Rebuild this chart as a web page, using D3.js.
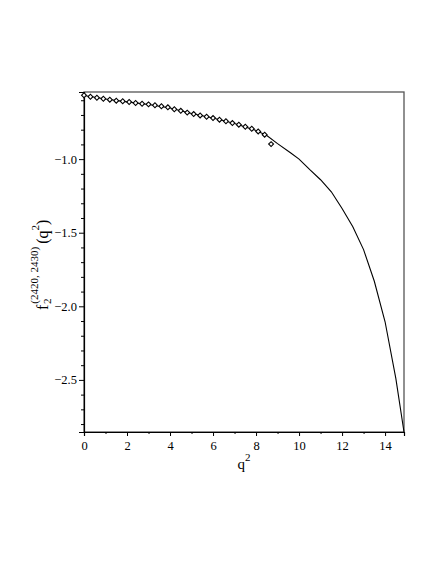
<!DOCTYPE html>
<html>
<head>
<meta charset="utf-8">
<script src="https://cdn.jsdelivr.net/npm/d3@7"></script>
<style>
  body { margin: 0; background: #fff; }
  svg text { font-family: "Liberation Serif", "DejaVu Serif", serif; fill: #000; }
</style>
</head>
<body>
<div id="chart"></div>
<script>
// measured points (diamonds)
var qData = [0, 0.3, 0.6, 0.9, 1.2, 1.5, 1.8, 2.1, 2.4, 2.7, 3.0, 3.3, 3.6, 3.9, 4.2,
             4.5, 4.8, 5.1, 5.4, 5.7, 6.0, 6.3, 6.6, 6.9, 7.2, 7.5, 7.8, 8.1, 8.4, 8.7];
var fData = [-0.566, -0.576, -0.583, -0.590, -0.596, -0.603, -0.607, -0.612, -0.619, -0.624,
             -0.628, -0.634, -0.641, -0.648, -0.661, -0.672, -0.684, -0.694, -0.703, -0.712,
             -0.721, -0.732, -0.743, -0.755, -0.766, -0.780, -0.794, -0.812, -0.834, -0.898];

// fitted curve
var qFit = [0, 1, 2, 3, 4, 5, 6, 7, 8, 8.5, 9, 9.6, 10, 10.5, 11, 11.5, 12, 12.5, 13, 13.5, 14, 14.5, 14.88];
var fFit = [-0.568, -0.592, -0.611, -0.629, -0.653, -0.690, -0.721, -0.758, -0.805, -0.840, -0.895,
            -0.957, -1.000, -1.072, -1.140, -1.222, -1.335, -1.460, -1.615, -1.830, -2.105, -2.490, -2.854];

var xTicks = [0, 2, 4, 6, 8, 10, 12, 14];
var xMinor = [1, 3, 5, 7, 9, 11, 13];
var yTicks = [-1.0, -1.5, -2.0, -2.5];
var yMinor = [-0.6, -0.7, -0.8, -0.9, -1.1, -1.2, -1.3, -1.4, -1.6, -1.7, -1.8, -1.9,
              -2.1, -2.2, -2.3, -2.4, -2.6, -2.7, -2.8];

var W = 436, H = 564;
var margin = {top: 92, right: 32, bottom: 132, left: 84};
var w = W - margin.left - margin.right,
    h = H - margin.top - margin.bottom;

var svg = d3.select("#chart").append("svg")
    .attr("width", W)
    .attr("height", H);

var g = svg.append("g")
    .attr("transform", "translate(" + margin.left + "," + margin.top + ")");

var x = d3.scaleLinear().domain([0, 14.88]).range([0, w]);
var y = d3.scaleLinear().domain([-2.854, -0.544]).range([h, 0]);

// box (top and right sides gray)
g.append("rect")
    .attr("width", w).attr("height", h)
    .attr("fill", "none")
    .attr("stroke", "#555")
    .attr("stroke-width", 1.3);

// axes
g.append("g").attr("transform", "translate(0," + h + ")")
    .call(d3.axisBottom(x).tickValues(xTicks).tickSize(4).tickPadding(5).tickFormat(d3.format("d")));
g.append("g").attr("transform", "translate(0," + h + ")")
    .call(d3.axisBottom(x).tickValues(xMinor).tickSize(2).tickFormat(""))
    .select(".domain").remove();

g.append("g")
    .call(d3.axisLeft(y).tickValues(yTicks).tickSize(5).tickPadding(2).tickFormat(d3.format(".1f")));
g.append("g")
    .call(d3.axisLeft(y).tickValues(yMinor).tickSize(3).tickFormat(""))
    .select(".domain").remove();

g.selectAll(".domain").attr("stroke", "#000").attr("stroke-width", 1.2);
g.selectAll(".tick line").attr("stroke", "#000");
g.selectAll(".tick text")
    .attr("font-family", null)
    .style("font-family", "'Liberation Serif', serif")
    .style("font-size", "12.5px");

// fitted line
var line = d3.line()
    .x(function(d, i) { return x(qFit[i]); })
    .y(function(d, i) { return y(fFit[i]); });

g.append("path")
    .datum(qFit)
    .attr("fill", "none")
    .attr("stroke", "#000")
    .attr("stroke-width", 1.1)
    .attr("d", line);

// diamonds
var diamond = d3.symbol().type(d3.symbolSquare).size(12);
g.selectAll("path.pt")
    .data(qData)
    .enter().append("path")
    .attr("class", "pt")
    .attr("d", diamond)
    .attr("transform", function(d, i) {
        return "translate(" + x(d) + "," + y(fData[i]) + ") rotate(45)";
    })
    .attr("fill", "#fff")
    .attr("stroke", "#000")
    .attr("stroke-width", 1.1);

// x label
var xl = g.append("text")
    .attr("x", w / 2)
    .attr("y", h + 37)
    .attr("text-anchor", "middle")
    .style("font-size", "15px");
xl.append("tspan").text("q");
xl.append("tspan").attr("dy", -8).style("font-size", "11px").text("2");

// y label
var yl = g.append("g")
    .attr("transform", "translate(" + (48 - margin.left) + "," + (258 - margin.top) + ") rotate(-90)");
var yt = yl.append("text")
    .attr("x", -52)
    .attr("y", 0)
    .style("font-size", "16px");
yt.append("tspan").text("f");
yt.append("tspan").attr("dx", 1).attr("dy", -10).style("font-size", "11px").text("(2420, 2430)");
yt.append("tspan").attr("dx", 3).attr("dy", 10).text("(q");
yt.append("tspan").attr("dy", -9).style("font-size", "11px").text("2");
yt.append("tspan").attr("dy", 9).text(")");
yl.append("text")
    .attr("x", -46)
    .attr("y", 3)
    .style("font-size", "11px")
    .text("2");
</script>
</body>
</html>
